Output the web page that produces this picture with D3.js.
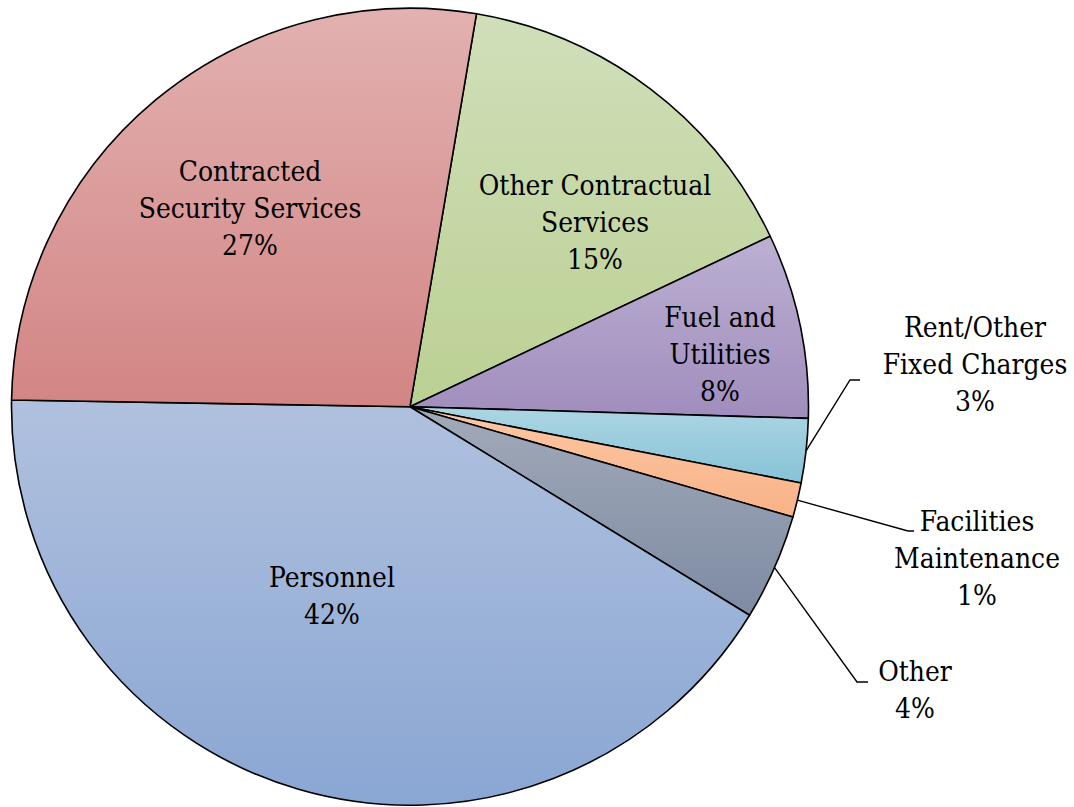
<!DOCTYPE html>
<html>
<head>
<meta charset="utf-8">
<script src="https://cdn.jsdelivr.net/npm/d3@7"></script>
<style>
  html, body { margin: 0; padding: 0; background: #fff; }
  svg { display: block; }
</style>
</head>
<body>
<svg id="chart" width="1074" height="807"></svg>
<script>
// Budget shares (percent), in clockwise drawing order
const categories = [
  "Other Contractual Services",
  "Fuel and Utilities",
  "Rent/Other Fixed Charges",
  "Facilities Maintenance",
  "Other",
  "Personnel",
  "Contracted Security Services"
];
const shares = [15.3, 7.5, 2.6, 1.4, 4.3, 41.5, 27.4];

// Label text lines per category (the percent line is appended from the data)
const labelLines = [
  ["Other Contractual", "Services"],
  ["Fuel and", "Utilities"],
  ["Rent/Other", "Fixed Charges"],
  ["Facilities", "Maintenance"],
  ["Other"],
  ["Personnel"],
  ["Contracted", "Security Services"]
];

// Gradient stops (top, bottom) for each slice
const colorsTop    = ["#d0dfba", "#bcb0d2", "#acd6e3", "#fcc7a4", "#a2aab9", "#b0c1de", "#e2b1b0"];
const colorsBottom = ["#bbd093", "#a08dbd", "#86c2d6", "#f9b287", "#7e8ba3", "#8aa6d3", "#d28584"];

// ---- layout ----
const cx = 410, cy = 406.7, R = 398.5;
const fontSize = 27, lineGap = 37, squeeze = 0.93;
const fontFamily = "'DejaVu Serif', serif";

// Label anchor (centre of first line) per slice
const labelAnchor = [
  [595, 186], [720, 318], [975, 328], [977, 522], [915, 672], [332, 578], [250, 172]
];
// Leader elbows for outside labels: [elbowX, elbowY, endX]
const leaders = {
  2: [850, 380, 860],
  3: [908, 531, 914],
  4: [857, 682, 868]
};

const svg = d3.select("#chart");
const defs = svg.append("defs");

categories.forEach((c, i) => {
  const g = defs.append("linearGradient")
    .attr("id", "grad" + i)
    .attr("x1", 0).attr("y1", 0).attr("x2", 0).attr("y2", 1);
  g.append("stop").attr("offset", "0%").attr("stop-color", colorsTop[i]);
  g.append("stop").attr("offset", "100%").attr("stop-color", colorsBottom[i]);
});

const data = categories.map((c, i) => ({ name: c, value: shares[i], i }));

const startDeg = 9.6;
const pie = d3.pie()
  .value(d => d.value)
  .sort(null)
  .startAngle(startDeg * Math.PI / 180)
  .endAngle((startDeg + 360) * Math.PI / 180);

const arcs = pie(data);
const arc = d3.arc().innerRadius(0).outerRadius(R);

const g = svg.append("g").attr("transform", `translate(${cx},${cy})`);

g.selectAll("path.slice")
  .data(arcs)
  .join("path")
  .attr("class", "slice")
  .attr("d", arc)
  .attr("fill", d => `url(#grad${d.data.i})`)
  .attr("stroke", "#000")
  .attr("stroke-width", 1.6)
  .attr("stroke-linejoin", "round");

// Leader lines from each small slice's outer mid-arc to its label
arcs.forEach(a => {
  const L = leaders[a.data.i];
  if (!L) return;
  const mid = (a.startAngle + a.endAngle) / 2;
  const px = cx + R * Math.sin(mid);
  const py = cy - R * Math.cos(mid);
  svg.append("polyline")
    .attr("points", `${px},${py} ${L[0]},${L[1]} ${L[2]},${L[1]}`)
    .attr("fill", "none")
    .attr("stroke", "#000")
    .attr("stroke-width", 1.4);
});

// Labels
const pct = d3.format(".0f");
arcs.forEach(a => {
  const i = a.data.i;
  const lines = labelLines[i].concat([pct(a.data.value) + "%"]);
  const [lx, ly] = labelAnchor[i];
  const t = svg.append("text")
    .attr("transform", `translate(${lx},${ly}) scale(${squeeze},1)`)
    .attr("text-anchor", "middle")
    .attr("font-family", fontFamily)
    .attr("font-size", fontSize)
    .attr("fill", "#000");
  lines.forEach((s, k) => {
    t.append("tspan")
      .attr("x", 0)
      .attr("y", k * lineGap)
      .attr("dy", "0.35em")
      .text(s);
  });
});
</script>
</body>
</html>
